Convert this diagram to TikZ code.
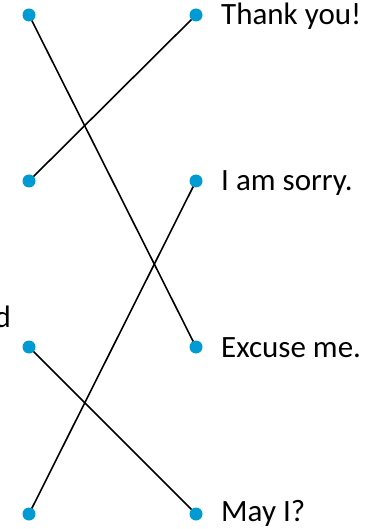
\documentclass[tikz,border=0pt]{standalone}
\usepackage{fontspec}
\setmainfont{Carlito}
\definecolor{dotblue}{RGB}{0,155,210}
\tikzset{
  dot/.style={circle, fill=dotblue, inner sep=0pt, minimum size=13pt},
  word/.style={anchor=base west, font=\fontsize{31}{36}\selectfont, inner sep=0pt},
  link/.style={line width=1.6pt, black}
}
\begin{document}
\begin{tikzpicture}[x=1pt,y=-1pt]
\useasboundingbox (0,0) rectangle (389,529);

% Left column
\coordinate (l1) at (29,15);
\coordinate (l2) at (29,181);
\coordinate (l3) at (29,347);
\coordinate (l4) at (29,514);

% Right column
\coordinate (r1) at (196,15);
\coordinate (r2) at (196,181);
\coordinate (r3) at (196,347);
\coordinate (r4) at (196,514);

% Connections
\draw [link] (l1) -- (r3);
\draw [link] (l2) -- (r1);
\draw [link] (l3) -- (r4);
\draw [link] (l4) -- (r2);

% Dots
\foreach \p in {l1,l2,l3,l4,r1,r2,r3,r4}
  \node [dot] at (\p) {};

% Labels
\node (thanks) [word] at (221,25) {Thank you!};
\node (sorry) [word] at (221,191) {I am sorry.};
\node (excuse) [word] at (221,357) {Excuse me.};
\node (may) [word] at (221,521) {May I?};
\node (cut) [word, anchor=base east] at (11,327) {d};

\end{tikzpicture}
\end{document}
